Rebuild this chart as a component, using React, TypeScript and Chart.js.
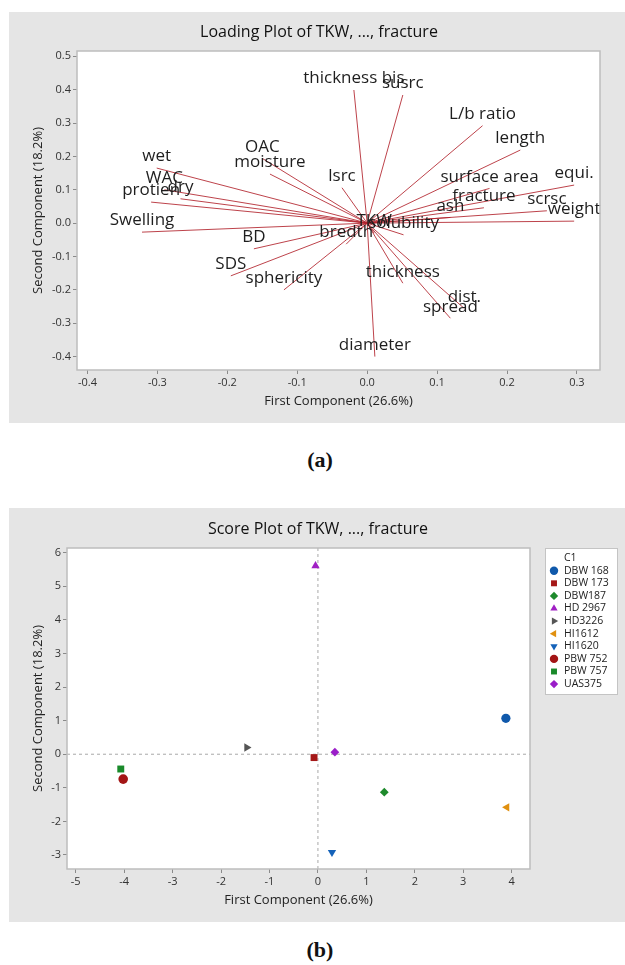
import React, { useEffect, useRef } from 'react';
import { Chart, registerables } from 'chart.js';
import { drawPoint } from 'chart.js/helpers';

Chart.register(...registerables);

const FONT = '"Open Sans", "Noto Sans", "DejaVu Sans", sans-serif';
const PANEL = '#e5e5e5';

// ---------------- Loading plot data ----------------
const loadingVariables = [
  'thickness bis', 'susrc', 'L/b ratio', 'length', 'equi.', 'surface area', 'fracture', 'ash',
  'scrsc', 'weight', 'solubility', 'TKW', 'thickness', 'dist.', 'spread', 'diameter', 'bredth',
  'sphericity', 'SDS', 'BD', 'Swelling', 'protien', 'dry', 'WAC', 'wet', 'OAC', 'moisture', 'lsrc',
];
const loadingPC1 = [
  -0.019, 0.051, 0.165, 0.219, 0.296, 0.175, 0.167, 0.119,
  0.257, 0.296, 0.052, 0.010, 0.051, 0.139, 0.119, 0.011, -0.030,
  -0.119, -0.195, -0.162, -0.322, -0.309, -0.267, -0.290, -0.301, -0.150, -0.139, -0.036,
];
const loadingPC2 = [
  0.399, 0.384, 0.292, 0.219, 0.114, 0.104, 0.046, 0.017,
  0.037, 0.006, -0.035, -0.030, -0.180, -0.256, -0.285, -0.400, -0.063,
  -0.200, -0.158, -0.077, -0.027, 0.063, 0.073, 0.100, 0.165, 0.194, 0.147, 0.106,
];
const loadingXTicks = [-0.4, -0.3, -0.2, -0.1, 0, 0.1, 0.2, 0.3];
const loadingXTickLabels = ['-0.4', '-0.3', '-0.2', '-0.1', '0.0', '0.1', '0.2', '0.3'];
const loadingYTicks = [-0.4, -0.3, -0.2, -0.1, 0, 0.1, 0.2, 0.3, 0.4, 0.5];
const loadingYTickLabels = ['-0.4', '-0.3', '-0.2', '-0.1', '0.0', '0.1', '0.2', '0.3', '0.4', '0.5'];

// ---------------- Score plot data ----------------
const scoreGroups = ['DBW 168', 'DBW 173', 'DBW187', 'HD 2967', 'HD3226', 'HI1612', 'HI1620', 'PBW 752', 'PBW 757', 'UAS375'];
const scorePC1 = [3.88, -0.08, 1.37, -0.05, -1.47, 3.90, 0.29, -4.02, -4.07, 0.35];
const scorePC2 = [1.07, -0.10, -1.13, 5.61, 0.20, -1.58, -2.92, -0.74, -0.44, 0.06];
const scoreXTicks = [-5, -4, -3, -2, -1, 0, 1, 2, 3, 4];
const scoreXTickLabels = ['-5', '-4', '-3', '-2', '-1', '0', '1', '2', '3', '4'];
const scoreYTicks = [-3, -2, -1, 0, 1, 2, 3, 4, 5, 6];
const scoreYTickLabels = ['-3', '-2', '-1', '0', '1', '2', '3', '4', '5', '6'];

// marker styles (presentation)
const scoreColors = ['#1059ab', '#a51818', '#1e8a2c', '#a020c4', '#555555', '#e0900f', '#1462b9', '#a31515', '#198a2a', '#9a1ec8'];
const scoreShapes = ['circle', 'rect', 'rectRot', 'triangle', 'triangle', 'triangle', 'triangle', 'circle', 'rect', 'rectRot'];
const scoreRotations = [0, 0, 0, 0, 90, 270, 180, 0, 0, 0];
const scoreRadii = [4.6, 4.9, 4.4, 4.8, 4.8, 4.8, 4.8, 4.8, 4.9, 4.4];

const VECTOR_COLOR = 'rgba(178, 34, 44, 0.85)';

function fixedTicks(values: number[]) {
  return (scale: any) => {
    scale.ticks = values.map((v) => ({ value: v }));
  };
}

function labelFor(values: number[], labels: string[]) {
  return (v: any) => {
    const i = values.findIndex((t) => Math.abs(t - v) < 1e-9);
    return i >= 0 ? labels[i] : '';
  };
}

function frameAndTitles(opts: {
  title: string; xTitle: string; yTitle: string;
  titleX: number; titleY: number; xTitleY: number; yTitleX: number;
}) {
  return {
    id: 'frameAndTitles',
    beforeDraw(chart: any) {
      const { ctx, chartArea: a } = chart;
      ctx.save();
      ctx.fillStyle = '#ffffff';
      ctx.fillRect(a.left, a.top, a.right - a.left, a.bottom - a.top);
      ctx.restore();
    },
    afterDraw(chart: any) {
      const { ctx, chartArea: a } = chart;
      ctx.save();
      ctx.strokeStyle = '#bdbdbd';
      ctx.lineWidth = 1.5;
      ctx.strokeRect(a.left, a.top, a.right - a.left, a.bottom - a.top);
      ctx.fillStyle = '#111';
      ctx.textAlign = 'center';
      ctx.textBaseline = 'middle';
      ctx.font = `16px ${FONT}`;
      ctx.fillText(opts.title, opts.titleX, opts.titleY);
      ctx.font = `13px ${FONT}`;
      ctx.fillStyle = '#222';
      ctx.fillText(opts.xTitle, (a.left + a.right) / 2, opts.xTitleY);
      ctx.translate(opts.yTitleX, (a.top + a.bottom) / 2);
      ctx.rotate(-Math.PI / 2);
      ctx.fillText(opts.yTitle, 0, 0);
      ctx.restore();
    },
  };
}

function axis(min: number, max: number, ticks: number[], labels: string[], fit: (s: any) => void) {
  return {
    type: 'linear',
    min,
    max,
    afterBuildTicks: fixedTicks(ticks),
    afterFit: fit,
    grid: { drawOnChartArea: false, drawTicks: true, tickLength: 4, color: '#8a8a8a', lineWidth: 1 },
    border: { display: false },
    ticks: {
      callback: labelFor(ticks, labels),
      font: { family: FONT, size: 11 },
      color: '#333',
      padding: 2,
      maxRotation: 0,
      autoSkip: false,
    },
  };
}

const vectorLabels = {
  id: 'vectorLabels',
  afterDatasetsDraw(chart: any) {
    const { ctx, scales } = chart;
    ctx.save();
    ctx.font = `17px ${FONT}`;
    ctx.fillStyle = '#1e1e1e';
    ctx.textAlign = 'center';
    ctx.textBaseline = 'middle';
    loadingVariables.forEach((name, i) => {
      const px = scales.x.getPixelForValue(loadingPC1[i]);
      const py = scales.y.getPixelForValue(loadingPC2[i]);
      ctx.fillText(name, px, py - 11.5);
    });
    ctx.restore();
  },
};

const referenceLines = {
  id: 'referenceLines',
  beforeDatasetsDraw(chart: any) {
    const { ctx, chartArea: a, scales } = chart;
    const x0 = scales.x.getPixelForValue(0);
    const y0 = scales.y.getPixelForValue(0);
    ctx.save();
    ctx.strokeStyle = '#a8a8a8';
    ctx.lineWidth = 1;
    ctx.setLineDash([3, 3]);
    ctx.beginPath();
    ctx.moveTo(x0, a.top);
    ctx.lineTo(x0, a.bottom);
    ctx.moveTo(a.left, y0);
    ctx.lineTo(a.right, y0);
    ctx.stroke();
    ctx.restore();
  },
};

const scoreLegend = {
  id: 'scoreLegend',
  afterDraw(chart: any) {
    const { ctx } = chart;
    const bx = 536, by = 40, bw = 72, bh = 146;
    ctx.save();
    ctx.fillStyle = '#ffffff';
    ctx.fillRect(bx, by, bw, bh);
    ctx.strokeStyle = '#c4c4c4';
    ctx.lineWidth = 1;
    ctx.strokeRect(bx + 0.5, by + 0.5, bw, bh);
    ctx.fillStyle = '#222';
    ctx.font = `10.5px ${FONT}`;
    ctx.textAlign = 'left';
    ctx.textBaseline = 'middle';
    ctx.fillText('C1', 555, 50);
    chart.data.datasets.forEach((ds: any, i: number) => {
      const yy = 62.7 + i * 12.6;
      ctx.fillStyle = ds.pointBackgroundColor;
      ctx.strokeStyle = ds.pointBackgroundColor;
      drawPoint(ctx, {
        pointStyle: ds.pointStyle,
        rotation: ds.pointRotation,
        radius: 4.2,
        borderWidth: 0,
      } as any, 545, yy);
      ctx.fillStyle = '#222';
      ctx.fillText(ds.label, 555, yy);
    });
    ctx.restore();
  },
};

function ChartCanvas({ width, height, build }: { width: number; height: number; build: () => any }) {
  const ref = useRef<HTMLCanvasElement | null>(null);
  useEffect(() => {
    if (!ref.current) return;
    const chart = new Chart(ref.current, build());
    return () => chart.destroy();
  }, []);
  return <canvas ref={ref} width={width} height={height} style={{ display: 'block', width, height }} />;
}

function buildLoading() {
  return {
    type: 'scatter',
    data: {
      datasets: loadingVariables.map((name, i) => ({
        label: name,
        data: [{ x: 0, y: 0 }, { x: loadingPC1[i], y: loadingPC2[i] }],
        showLine: true,
        borderColor: VECTOR_COLOR,
        borderWidth: 1,
        pointRadius: 0,
        fill: false,
      })),
    },
    options: {
      responsive: false,
      animation: false,
      events: [],
      layout: { padding: { top: 39, right: 25, left: 0, bottom: 0 } },
      plugins: { legend: { display: false }, tooltip: { enabled: false }, title: { display: false } },
      scales: {
        x: axis(-0.415, 0.333, loadingXTicks, loadingXTickLabels, (s: any) => { s.height = 53; }),
        y: axis(-0.4402, 0.5159, loadingYTicks, loadingYTickLabels, (s: any) => { s.width = 68; }),
      },
    },
    plugins: [
      frameAndTitles({
        title: 'Loading Plot of TKW, ..., fracture',
        xTitle: 'First Component (26.6%)',
        yTitle: 'Second Component (18.2%)',
        titleX: 310, titleY: 20, xTitleY: 389, yTitleX: 29,
      }),
      vectorLabels,
    ],
  };
}

function buildScore() {
  return {
    type: 'scatter',
    data: {
      datasets: scoreGroups.map((name, i) => ({
        label: name,
        data: [{ x: scorePC1[i], y: scorePC2[i] }],
        pointStyle: scoreShapes[i],
        pointRotation: scoreRotations[i],
        pointRadius: scoreRadii[i],
        pointBackgroundColor: scoreColors[i],
        pointBorderColor: scoreColors[i],
        pointBorderWidth: 0,
      })),
    },
    options: {
      responsive: false,
      animation: false,
      events: [],
      layout: { padding: { top: 40, right: 95, left: 0, bottom: 0 } },
      plugins: { legend: { display: false }, tooltip: { enabled: false }, title: { display: false } },
      scales: {
        x: axis(-5.18, 4.378, scoreXTicks, scoreXTickLabels, (s: any) => { s.height = 53; }),
        y: axis(-3.417, 6.14, scoreYTicks, scoreYTickLabels, (s: any) => { s.width = 58; }),
      },
    },
    plugins: [
      referenceLines,
      frameAndTitles({
        title: 'Score Plot of TKW, ..., fracture',
        xTitle: 'First Component (26.6%)',
        yTitle: 'Second Component (18.2%)',
        titleX: 309, titleY: 21, xTitleY: 392, yTitleX: 29,
      }),
      scoreLegend,
    ],
  };
}

const captionStyle: React.CSSProperties = {
  position: 'absolute',
  left: 280,
  width: 80,
  textAlign: 'center',
  fontFamily: '"Liberation Serif", "Times New Roman", serif',
  fontWeight: 'bold',
  fontSize: 22,
  lineHeight: '26px',
  color: '#111',
};

export default function App() {
  return (
    <div style={{ position: 'absolute', left: 0, top: 0, width: 625, height: 965, background: '#ffffff', overflow: 'hidden' }}>
      <div style={{ position: 'absolute', left: 9, top: 12, width: 616, height: 411, background: PANEL }}>
        <ChartCanvas width={616} height={411} build={buildLoading} />
      </div>
      <div style={{ ...captionStyle, top: 447 }}>(a)</div>
      <div style={{ position: 'absolute', left: 9, top: 508, width: 616, height: 414, background: PANEL }}>
        <ChartCanvas width={616} height={414} build={buildScore} />
      </div>
      <div style={{ ...captionStyle, top: 937 }}>(b)</div>
    </div>
  );
}
